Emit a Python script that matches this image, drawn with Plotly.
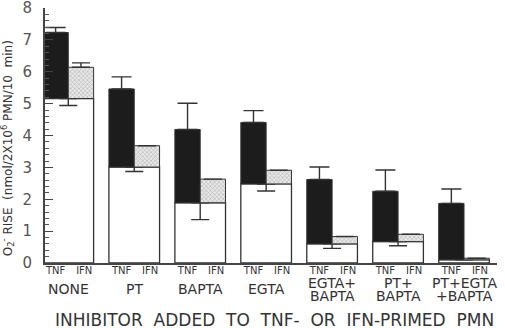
import plotly.graph_objects as go

# ---- data ----
groups_line1 = ["NONE", "PT", "BAPTA", "EGTA", "EGTA+", "PT+", "PT+EGTA"]
groups_line2 = ["", "", "", "", "BAPTA", "BAPTA", "+BAPTA"]
primers = ["TNF", "IFN"]

unprimed = [5.16, 3.01, 1.89, 2.48, 0.60, 0.67, 0.10]
unprimed_err = [0.22, 0.14, 0.53, 0.22, 0.14, 0.13, 0.0]
tnf = [7.23, 5.46, 4.19, 4.41, 2.62, 2.25, 1.87]
tnf_err = [0.16, 0.38, 0.82, 0.37, 0.39, 0.67, 0.45]
ifn = [6.14, 3.68, 2.63, 2.91, 0.83, 0.90, 0.15]
ifn_err = [0.14, 0.0, 0.0, 0.0, 0.0, 0.0, 0.0]

y_ticks = [0, 1, 2, 3, 4, 5, 6, 7, 8]

# ---- styling ----
FONT = "DejaVu Sans"
INK = "#333333"
BW = 0.384  # width of one bar in group units
pos = list(range(len(groups_line1)))

fig = go.Figure()

# unprimed baseline (white, spans both bars)
fig.add_trace(go.Bar(
    x=pos, y=unprimed, width=2 * BW, offset=-BW,
    marker=dict(color="white", line=dict(color=INK, width=1.3)),
    error_y=dict(type="data", symmetric=False, array=[0] * len(pos),
                 arrayminus=unprimed_err, color=INK, thickness=1.4, width=9),
    showlegend=False, hoverinfo="skip",
))

# TNF-primed increment (black)
fig.add_trace(go.Bar(
    x=pos, y=[t - u for t, u in zip(tnf, unprimed)], base=unprimed,
    width=BW, offset=-BW,
    marker=dict(color="#1c1c1c", line=dict(color=INK, width=1.0)),
    error_y=dict(type="data", symmetric=False, array=tnf_err,
                 arrayminus=[0] * len(pos), color=INK, thickness=1.4, width=10),
    showlegend=False, hoverinfo="skip",
))

# IFN-primed increment (hatched)
fig.add_trace(go.Bar(
    x=pos, y=[f - u for f, u in zip(ifn, unprimed)], base=unprimed,
    width=BW, offset=0,
    marker=dict(color="white", line=dict(color=INK, width=1.0),
                pattern=dict(shape="x", fgcolor="#777777", bgcolor="#e8e8e8",
                             size=3, solidity=0.35)),
    error_y=dict(type="data", symmetric=False, array=ifn_err,
                 arrayminus=[0] * len(pos), color=INK, thickness=1.4, width=9),
    showlegend=False, hoverinfo="skip",
))

# x tick labels: TNF / IFN under each bar
tickvals, ticktext = [], []
for p in pos:
    tickvals += [p - BW / 2, p + BW / 2 + 0.05]
    ticktext += primers

annotations = []
for p, l1, l2 in zip(pos, groups_line1, groups_line2):
    if l2:
        annotations.append(dict(x=p, y=-0.077, xref="x", yref="paper", text=l1,
                                showarrow=False, yanchor="middle",
                                font=dict(family=FONT, size=14, color=INK)))
        annotations.append(dict(x=p, y=-0.131, xref="x", yref="paper", text=l2,
                                showarrow=False, yanchor="middle",
                                font=dict(family=FONT, size=14, color=INK)))
    else:
        annotations.append(dict(x=p, y=-0.103, xref="x", yref="paper", text=l1,
                                showarrow=False, yanchor="middle",
                                font=dict(family=FONT, size=14, color=INK)))

annotations.append(dict(
    x=0.507, y=-0.222, xref="paper", yref="paper",
    text="INHIBITOR  ADDED  TO  TNF-  OR  IFN-PRIMED  PMN",
    showarrow=False, yanchor="middle", xanchor="center",
    font=dict(family=FONT, size=17, color=INK)))

# y-axis title as rotated annotation
annotations.append(dict(
    x=-37 / 452, y=0.45, xref="paper", yref="paper", textangle=-90,
    text="O<sub>2</sub><sup>-</sup> RISE  (nmol/2X10<sup>6</sup> PMN/10  min)",
    showarrow=False, xanchor="center", yanchor="middle",
    font=dict(family=FONT, size=12, color=INK)))

fig.update_layout(
    width=505, height=328,
    margin=dict(l=45, r=8, t=8, b=65, autoexpand=False),
    paper_bgcolor="white", plot_bgcolor="white",
    barmode="overlay",
    annotations=annotations,
    xaxis=dict(range=[-0.353, 6.50], tickvals=tickvals, ticktext=ticktext,
               ticks="", showgrid=False, zeroline=False, automargin=False,
               showline=True, linecolor="#444444", linewidth=2,
               ticklabelstandoff=-3,
               tickfont=dict(family=FONT, size=10, color=INK)),
    yaxis=dict(range=[0, 8], tickvals=y_ticks, ticks="inside", ticklen=8,
               tickwidth=1.3, tickcolor="#444444", automargin=False,
               ticklabeloverflow="allow",
               minor=dict(dtick=0.2, ticks="inside", ticklen=4,
                          tickwidth=1, tickcolor="#555555"),
               showgrid=False, zeroline=False, showline=True,
               linecolor="#444444", linewidth=2,
               ticklabelstandoff=8,
               tickfont=dict(family=FONT, size=15, color="#555555")),
)

fig.write_html("out.html", config={"displayModeBar": False},
               post_script="document.body.style.margin='0';document.body.style.overflow='hidden';")
